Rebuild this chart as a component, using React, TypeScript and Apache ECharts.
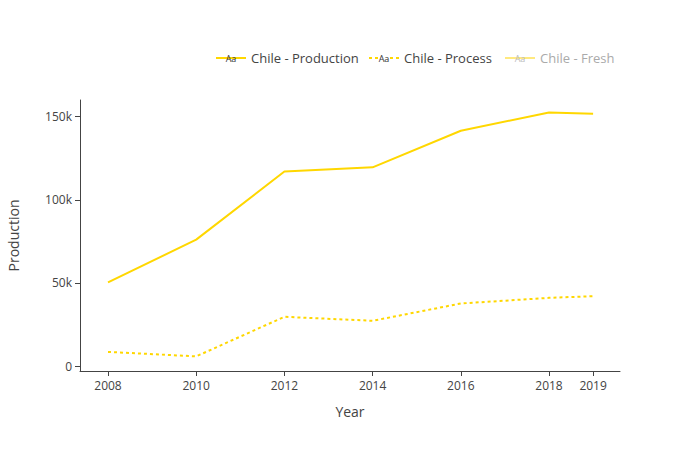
import React, { useEffect, useRef } from "react";
import * as echarts from "echarts";

const years = [2008, 2010, 2012, 2014, 2016, 2018, 2019];
const production = [50300, 76000, 117000, 119500, 141500, 152500, 151700];
const process = [8500, 5800, 29600, 27200, 37600, 41000, 42000];
const fresh: number[] = [];
const yTicks = [0, 50000, 100000, 150000];
const seriesNames = ["Chile - Production", "Chile - Process", "Chile - Fresh"];

const GOLD = "#FFD700";
const FONT = "'Open Sans', Verdana, Arial, sans-serif";

const BOX = "M0,0h0.01v0.01h-0.01Z M29.99,13.99h0.01v0.01h-0.01Z ";
const SOLID_ICON = "path://" + BOX + "M0,6H30V8H0Z";
const DOT_ICON =
  "path://" + BOX + "M0,6h3v2h-3Z M6,6h3v2h-3Z M21,6h3v2h-3Z M27,6h3v2h-3Z";

export default function App() {
  const ref = useRef<HTMLDivElement>(null);
  useEffect(() => {
    document.body.style.margin = "0";
    if (!ref.current) return;
    const chart = echarts.init(ref.current, null, { renderer: "svg" });
    const legendBase = {
      top: 46,
      itemWidth: 30,
      itemHeight: 14,
      itemGap: 5,
      textStyle: { fontFamily: FONT, fontSize: 13, color: "#444" },
      selectedMode: false as const,
    };
    const aa = (x: number, color: string) => ({
      type: "text",
      x,
      y: 58,
      z: 100,
      style: {
        text: "Aa",
        fontFamily: FONT,
        fontSize: 9,
        fill: color,
        align: "center",
        verticalAlign: "middle",
      },
    });
    chart.setOption({
      animation: false,
      textStyle: { fontFamily: FONT },
      grid: {
        left: 80,
        right: 80,
        top: 100,
        bottom: 79,
        containLabel: false,
        outerBoundsMode: "none",
      },
      legend: [
        { ...legendBase, left: 211, data: [{ name: seriesNames[0], icon: SOLID_ICON }] },
        { ...legendBase, left: 364, data: [{ name: seriesNames[1], icon: DOT_ICON }] },
        {
          ...legendBase,
          left: 500,
          data: [{ name: seriesNames[2], icon: SOLID_ICON, textStyle: { color: "#aaa" } }],
        },
      ],
      graphic: [aa(231, "#333"), aa(384, "#333"), aa(520, "#bbb")],
      xAxis: {
        type: "value",
        min: 2007.365,
        max: 2019.61,
        name: "Year",
        nameLocation: "middle",
        nameGap: 33,
        nameTextStyle: { fontFamily: FONT, fontSize: 14, color: "#444" },
        axisLine: { show: true, onZero: false, lineStyle: { color: "#444", width: 1 } },
        axisTick: { show: true, length: 5, customValues: years, lineStyle: { color: "#444" } },
        axisLabel: {
          customValues: years,
          fontFamily: FONT,
          fontSize: 12,
          color: "#444",
          margin: 8,
          formatter: (v: number) => String(v),
        },
        splitLine: { show: false },
      },
      yAxis: {
        type: "value",
        min: -3000,
        max: 160000,
        name: "Production",
        nameLocation: "middle",
        nameGap: 60,
        nameRotate: 90,
        nameTextStyle: { fontFamily: FONT, fontSize: 14, color: "#444" },
        axisLine: { show: true, onZero: false, lineStyle: { color: "#444", width: 1 } },
        axisTick: { show: true, length: 5, customValues: yTicks, lineStyle: { color: "#444" } },
        axisLabel: {
          customValues: yTicks,
          fontFamily: FONT,
          fontSize: 12,
          color: "#444",
          margin: 8,
          formatter: (v: number) => (v === 0 ? "0" : v / 1000 + "k"),
        },
        splitLine: { show: false },
      },
      series: [
        {
          name: seriesNames[0],
          type: "line",
          data: years.map((y, i) => [y, production[i]]),
          symbol: "none",
          color: GOLD,
          lineStyle: { color: GOLD, width: 2 },
        },
        {
          name: seriesNames[1],
          type: "line",
          data: years.map((y, i) => [y, process[i]]),
          symbol: "none",
          color: GOLD,
          lineStyle: { color: GOLD, width: 2, type: [3, 3] },
        },
        {
          name: seriesNames[2],
          type: "line",
          data: fresh,
          symbol: "none",
          color: "#FFE97F",
          lineStyle: { color: "#FFE97F", width: 2 },
        },
      ],
    });
    return () => chart.dispose();
  }, []);
  return <div ref={ref} style={{ width: 700, height: 450 }} />;
}
